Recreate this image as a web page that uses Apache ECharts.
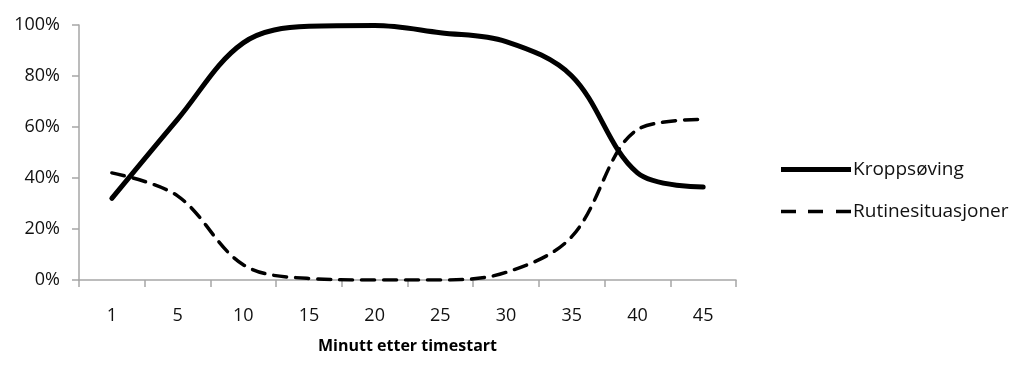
<!DOCTYPE html>
<html>
<head>
<meta charset="utf-8">
<script src="https://cdn.jsdelivr.net/npm/echarts@6/dist/echarts.min.js"></script>
<style>
  html, body { margin: 0; padding: 0; background: #fff; }
  #chart { width: 1025px; height: 365px; }
</style>
</head>
<body>
<div id="chart"></div>
<script>
// Minutes since the start of the lesson
const minutes = ['1', '5', '10', '15', '20', '25', '30', '35', '40', '45'];
// Share of observations per activity, in percent
const kroppsoving = [32, 63, 93, 99.5, 99.8, 97, 93.5, 80, 42, 36.5];
const rutinesituasjoner = [42, 33, 6, 0.6, 0, 0, 3, 17, 59, 63];
const percentTicks = [0, 20, 40, 60, 80, 100];

const FONT = '"Open Sans", "Noto Sans", sans-serif';
const AXIS_GRAY = '#a6a6a6';

// Legend swatches: a solid bar and a three-dash bar
const SOLID_ICON = 'path://M0,0H70V5H0Z';
const DASHED_ICON = 'path://M0,0.8H15V4.2H0Z M27,0.8H42V4.2H27Z M55,0.8H70V4.2H55Z M0,0H0.01V5H0Z';

const chart = echarts.init(document.getElementById('chart'), null, { renderer: 'canvas' });

chart.setOption({
  animation: false,
  textStyle: { fontFamily: FONT },
  grid: { left: 79, right: 289, top: 25, bottom: 85, containLabel: false },
  legend: {
    orient: 'vertical',
    left: 776,
    top: 155,
    itemWidth: 70,
    itemHeight: 5,
    itemGap: 23,
    symbolKeepAspect: false,
    textStyle: { fontFamily: FONT, fontSize: 19, color: '#111', padding: [0, 0, 0, -3] },
    data: [
      { name: 'Kroppsøving', icon: SOLID_ICON },
      { name: 'Rutinesituasjoner', icon: DASHED_ICON }
    ]
  },
  xAxis: {
    type: 'category',
    data: minutes,
    boundaryGap: true,
    name: 'Minutt etter timestart',
    nameLocation: 'middle',
    nameGap: 58,
    nameTextStyle: { fontFamily: FONT, fontSize: 16, fontWeight: 'bold', color: '#000' },
    axisLine: { lineStyle: { color: AXIS_GRAY, width: 1.5 } },
    axisTick: { show: true, length: 7, lineStyle: { color: AXIS_GRAY, width: 1.5 } },
    axisLabel: { fontSize: 18, color: '#111', margin: 27 },
    splitLine: { show: false }
  },
  yAxis: {
    type: 'value',
    min: percentTicks[0],
    max: percentTicks[percentTicks.length - 1],
    interval: 20,
    axisLine: { show: true, lineStyle: { color: AXIS_GRAY, width: 1.5 } },
    axisTick: { show: true, length: 7, lineStyle: { color: AXIS_GRAY, width: 1.5 } },
    axisLabel: { fontSize: 18, color: '#111', margin: 19, formatter: '{value}%' },
    splitLine: { show: false }
  },
  series: [
    {
      name: 'Kroppsøving',
      type: 'line',
      data: kroppsoving,
      smooth: 0.35,
      symbol: 'none',
      lineStyle: { color: '#000', width: 5, cap: 'round', join: 'round' },
      itemStyle: { color: '#000' }
    },
    {
      name: 'Rutinesituasjoner',
      type: 'line',
      data: rutinesituasjoner,
      smooth: 0.35,
      symbol: 'none',
      lineStyle: { color: '#000', width: 3.5, type: [13, 9], cap: 'round', join: 'round' },
      itemStyle: { color: '#000' }
    }
  ]
});
</script>
</body>
</html>
